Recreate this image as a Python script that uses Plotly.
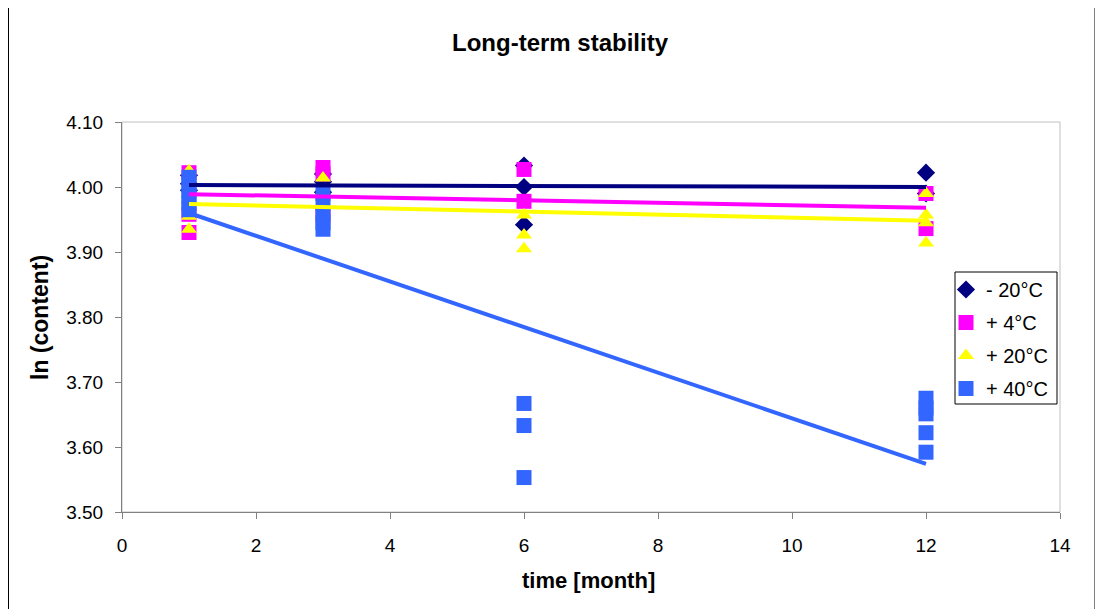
import plotly.graph_objects as go

# ---- data ----
x_m20 = [1, 1, 1, 3, 3, 3, 6, 6, 6, 12, 12]
y_m20 = [4.018, 4.005, 3.995, 4.020, 4.008, 3.992, 4.033, 4.000, 3.942, 4.022, 3.990]

x_p4 = [1, 1, 1, 3, 3, 3, 6, 6, 12, 12]
y_p4 = [4.022, 3.958, 3.930, 4.030, 4.020, 3.957, 4.027, 3.978, 3.990, 3.936]

x_p20 = [1, 1, 1, 3, 3, 6, 6, 6, 12, 12, 12, 12]
y_p20 = [4.025, 3.955, 3.935, 4.014, 3.958, 3.957, 3.926, 3.905, 3.990, 3.957, 3.945, 3.914]

x_p40 = [1, 1, 1, 1, 1, 1, 3, 3, 3, 3, 3, 6, 6, 6, 12, 12, 12, 12, 12]
y_p40 = [4.015, 4.005, 3.995, 3.985, 3.975, 3.965,
         3.990, 3.975, 3.960, 3.945, 3.935,
         3.667, 3.633, 3.553,
         3.675, 3.660, 3.651, 3.622, 3.592]

# linear trend lines (values at month 1 and month 12)
trend_x = [1, 12]
trend_m20 = [4.003, 4.000]
trend_p4 = [3.989, 3.968]
trend_p20 = [3.974, 3.948]
trend_p40 = [3.960, 3.574]

names = ["- 20°C", "+ 4°C", "+ 20°C", "+ 40°C"]
colors = ["#000080", "#FF00FF", "#FFFF00", "#3366FF"]
symbols = ["diamond", "square", "triangle-up", "square"]
sizes = [14, 15, 14, 15]

xs = [x_m20, x_p4, x_p20, x_p40]
ys = [y_m20, y_p4, y_p20, y_p40]
trends = [trend_m20, trend_p4, trend_p20, trend_p40]

FONT = "Liberation Sans, Arial, sans-serif"

fig = go.Figure()
for i in range(4):
    fig.add_trace(go.Scatter(
        x=xs[i], y=ys[i], mode="markers", name=names[i],
        legendgroup=names[i],
        marker=dict(symbol=symbols[i], color=colors[i], size=sizes[i],
                    line=dict(width=0)),
    ))
for i in range(4):
    fig.add_trace(go.Scatter(
        x=trend_x, y=trends[i], mode="lines", showlegend=False,
        legendgroup=names[i],
        line=dict(color=colors[i], width=4),
        hoverinfo="skip",
    ))

# page has an 8px body margin; figure coords = page coords - 8
OFF = 8
W, H = 1095, 601
L, T = 122 - OFF, 122 - OFF
pw, ph = 938, 390
R, B = W - L - pw, H - T - ph


def px_x(p):
    return (p - OFF - L) / pw


def px_y(p):
    return (T + ph - (p - OFF)) / ph


fig.update_layout(
    width=W, height=H,
    margin=dict(l=L, r=R, t=T, b=B, pad=0),
    paper_bgcolor="white", plot_bgcolor="white",
    font=dict(family=FONT, size=19, color="black"),
    showlegend=True,
    legend=dict(
        x=px_x(946), y=px_y(270), xanchor="left", yanchor="top",
        borderwidth=0, bgcolor="rgba(0,0,0,0)",
        font=dict(family=FONT, size=20, color="black"),
        traceorder="grouped", tracegroupgap=4,
        itemsizing="trace",
    ),
    xaxis=dict(
        range=[0, 14], tickvals=[0, 2, 4, 6, 8, 10, 12, 14],
        showgrid=False, zeroline=False,
        showline=True, linecolor="#808080", linewidth=1,
        ticks="outside", ticklen=6, tickcolor="#808080",
        ticklabelstandoff=10,
        tickfont=dict(family=FONT, size=19, color="black"),
    ),
    yaxis=dict(
        range=[3.5, 4.1], tickvals=[3.5, 3.6, 3.7, 3.8, 3.9, 4.0, 4.1],
        tickformat=".2f",
        showgrid=False, zeroline=False,
        showline=True, linecolor="#808080", linewidth=1,
        ticks="outside", ticklen=6, tickcolor="#808080",
        ticklabelstandoff=8,
        tickfont=dict(family=FONT, size=19, color="black"),
    ),
    shapes=[
        # plot area border (light gray)
        dict(type="rect", xref="paper", yref="paper", x0=0, x1=1, y0=0, y1=1,
             line=dict(color="#C0C0C0", width=1), layer="below"),
        # legend box
        dict(type="rect", xref="paper", yref="paper",
             x0=px_x(955), x1=px_x(1057), y0=px_y(404), y1=px_y(272),
             line=dict(color="black", width=1), fillcolor="white",
             layer="below"),
        # outer chart frame
        dict(type="rect", xref="paper", yref="paper",
             x0=px_x(8.5), x1=px_x(1095), y0=px_y(640), y1=px_y(-20),
             line=dict(color="black", width=1), layer="below"),
    ],
    annotations=[
        dict(text="<b>Long-term stability</b>", xref="paper", yref="paper",
             x=px_x(560), y=px_y(42), xanchor="center", yanchor="middle",
             showarrow=False, font=dict(family=FONT, size=24, color="black")),
        dict(text="<b>time [month]</b>", xref="paper", yref="paper",
             x=px_x(588), y=px_y(580), xanchor="center", yanchor="middle",
             showarrow=False, font=dict(family=FONT, size=22, color="black")),
        dict(text="<b>ln (content)</b>", xref="paper", yref="paper",
             x=px_x(40), y=px_y(318), xanchor="center", yanchor="middle",
             textangle=-90,
             showarrow=False, font=dict(family=FONT, size=23, color="black")),
    ],
)

fig.write_html("out.html")
